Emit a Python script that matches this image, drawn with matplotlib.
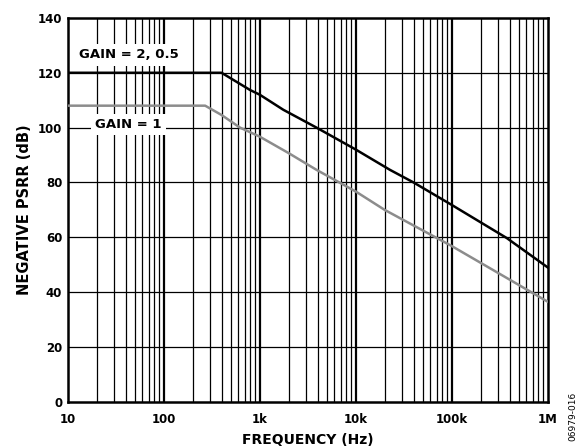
import numpy as np
import matplotlib
matplotlib.use("Agg")
import matplotlib.pyplot as plt
from matplotlib.ticker import FixedLocator, NullFormatter

plt.rcParams['font.family'] = ['DejaVu Sans']

# gain = 2, 0.5 (black)
freq_g2 = [10, 400, 794, 1000, 1760, 3900, 10000, 22700, 40000, 100000, 375000, 1000000]
psrr_g2 = [120, 120, 113.7, 112, 106.5, 100, 92, 84.6, 80, 71.8, 59.7, 49]
# gain = 1 (gray)
freq_g1 = [10, 270, 400, 623, 1000, 2000, 3900, 10000, 20000, 100000, 1000000]
psrr_g1 = [108, 108, 104.6, 100, 96.7, 90.7, 84.6, 76.7, 70, 56.8, 36.5]

xticks = [10, 100, 1000, 10000, 100000, 1000000]
xlabels = ['10', '100', '1k', '10k', '100k', '1M']
yticks = [0, 20, 40, 60, 80, 100, 120, 140]

fig = plt.figure(figsize=(5.84, 4.48), dpi=100)
ax = fig.add_axes([0.116, 0.103, 0.822, 0.857])

minor = [m * 10 ** d for d in range(1, 6) for m in range(2, 10)]
for f in minor:
    ax.axvline(f, color='black', lw=0.9, zorder=1)
for f in xticks[1:-1]:
    ax.axvline(f, color='black', lw=1.6, zorder=1)
for y in yticks[1:-1]:
    ax.axhline(y, color='black', lw=0.9, zorder=1)

ax.plot(freq_g1, psrr_g1, color='#8c8c8c', lw=1.8, zorder=3)
ax.plot(freq_g2, psrr_g2, color='black', lw=1.8, zorder=4)

ax.set_xscale('log')
ax.set_xlim(10, 1e6)
ax.set_ylim(0, 140)
ax.xaxis.set_major_locator(FixedLocator(xticks))
ax.set_xticklabels(xlabels)
ax.xaxis.set_minor_formatter(NullFormatter())
ax.set_yticks(yticks)
ax.tick_params(which='both', length=0, labelsize=8.5)
ax.tick_params(axis='x', pad=8)
ax.tick_params(axis='y', pad=4)
for lab in ax.get_xticklabels() + ax.get_yticklabels():
    lab.set_fontweight('bold')
for s in ax.spines.values():
    s.set_linewidth(1.8)

ax.set_xlabel('FREQUENCY (Hz)', fontsize=10, fontweight='bold', labelpad=5)
ax.set_ylabel('NEGATIVE PSRR (dB)', fontsize=10.5, fontweight='bold', labelpad=4)

box = dict(facecolor='white', edgecolor='none', pad=3)
ax.text(43.6, 126.5, 'GAIN = 2, 0.5', fontsize=9.5, fontweight='bold',
        ha='center', va='center', bbox=box, zorder=5)
ax.text(42.8, 101.2, 'GAIN = 1', fontsize=9.5, fontweight='bold',
        ha='center', va='center', bbox=box, zorder=5)

fig.text(0.981, 0.07, '06979-016', rotation=90, fontsize=6.5,
         ha='center', va='center')

fig.savefig('out.png', dpi=100)
